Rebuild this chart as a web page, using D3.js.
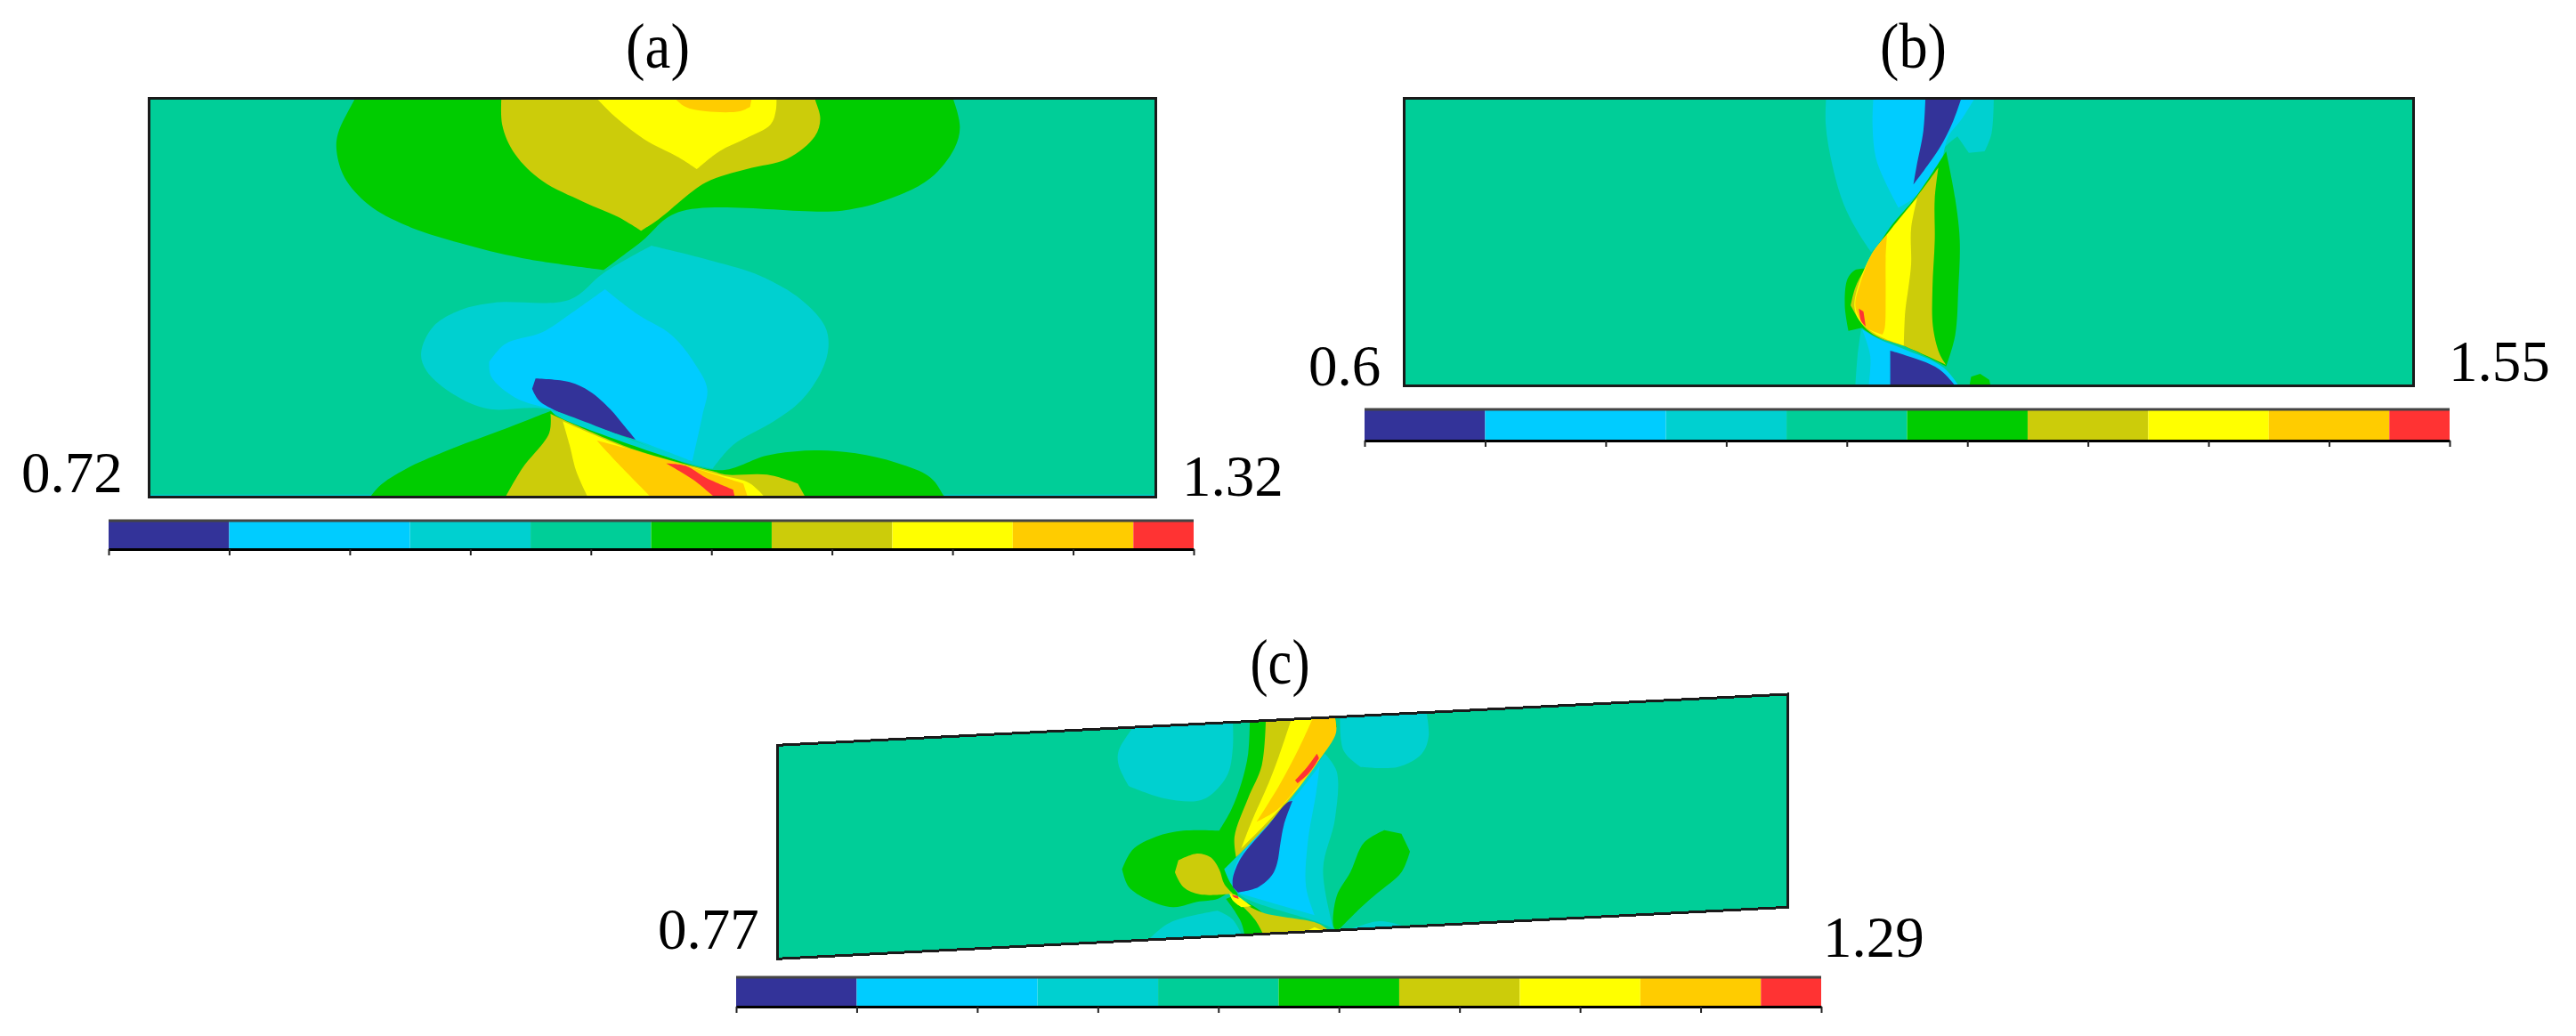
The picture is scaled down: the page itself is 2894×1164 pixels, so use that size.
<!DOCTYPE html>
<html><head><meta charset="utf-8">
<script src="https://cdnjs.cloudflare.com/ajax/libs/d3/7.8.5/d3.min.js"></script>
<style>html,body{margin:0;background:#fff}svg{display:block}text{font-family:"Liberation Serif",serif;fill:#000}</style>
</head><body>
<svg id="c" width="2894" height="1164"></svg>
<script>
// Contour levels, lowest to highest
const levelNames = ["navy","cyan","teal","base","green","olive","yellow","orange","red"];
const levelColors = ["#333399","#00CCFF","#00D0D0","#00CE98","#00CC00","#CCCC0A","#FFFF00","#FFCC00","#FF3333"];
// Colour-bar band edges, in tick units
const bandEdges = [0,1,2.5,3.5,4.5,5.5,6.5,7.5,8.5,9];
const tickUnits = [0,1,2,3,4,5,6,7,8,9];
const panelNames = ["(a)","(b)","(c)"];
const minLabels = ["0.72","0.6","0.77"];
const maxLabels = ["1.32","1.55","1.29"];

// Contour regions in mesh units, painted in order. Boundary points reach past the
// mesh edge where a contour meets it; the mesh clip trims them.
const regionsA = [
 ["teal",[[0,1397],[350,1397],[350,1430],[0,1430]]],
 ["teal",[[1190,1397],[1530,1397],[1530,1430],[1190,1430]]],
 ["green",[[335,20],[325,62],[300,180],[298,240],[310,330],[345,420],[400,490],[480,550],[570,600],[690,640],[745,545],[800,445],[1040,440],[1110,400],[1170,330],[1205,230],[1213,160],[1203,62],[1195,20]]],
 ["olive",[[541,20],[541,150],[560,250],[600,340],[660,410],[710,460],[745,508],[770,470],[840,345],[900,300],[960,265],[1000,190],[1008,130],[1000,62],[995,20]]],
 ["yellow",[[665,20],[680,62],[710,130],[750,200],[800,260],[827,300],[860,240],[900,195],[935,150],[943,100],[943,20]]],
 ["orange",[[785,30],[795,62],[810,90],[840,105],[890,105],[905,90],[910,30]]],
 ["teal",[[760,558],[850,610],[920,660],[980,740],[1015,830],[1020,900],[1010,980],[980,1080],[940,1150],[880,1230],[850,1310],[815,1290],[612,1110],[520,1108],[470,1060],[430,980],[422,920],[440,830],[480,775],[530,750],[640,740],[690,650]]],
 ["cyan",[[692,705],[740,790],[790,860],[825,960],[842,1040],[835,1130],[820,1285],[700,1180],[612,1110],[560,1070],[525,1000],[522,950],[545,890],[600,850],[640,790]]],
 ["navy",[[590,1006],[640,1018],[670,1050],[700,1110],[720,1165],[737,1212],[680,1170],[625,1120],[595,1080],[585,1040]]],
 ["green",[[612,1115],[540,1180],[470,1240],[400,1310],[360,1370],[340,1430],[1195,1430],[1190,1405],[1170,1340],[1120,1290],[1060,1258],[1000,1248],[930,1265],[860,1315],[740,1232]]],
 ["olive",[[612,1125],[610,1190],[570,1310],[540,1430],[992,1430],[975,1360],[930,1330],[870,1330],[850,1318],[735,1245]]],
 ["yellow",[[630,1150],[640,1230],[650,1320],[672,1430],[935,1430],[905,1360],[860,1330],[730,1245]]],
 ["orange",[[680,1215],[710,1290],[770,1430],[905,1430],[895,1360],[865,1338],[840,1320],[730,1245]]],
 ["red",[[782,1292],[810,1300],[840,1340],[880,1380],[885,1430],[870,1430],[820,1345]]],
 ["teal",[[612,1112],[625,1120],[745,1225],[830,1298],[855,1312],[815,1292],[735,1233],[620,1130]]]
];
const regionsB = [
 ["teal",[[1082,30],[1080,150],[1095,290],[1120,420],[1150,510],[1180,580],[1275,400],[1340,230],[1370,190],[1395,245],[1430,240],[1445,180],[1450,30]]],
 ["cyan",[[1186,30],[1183,150],[1190,260],[1210,340],[1240,430],[1275,395],[1330,290],[1350,190],[1380,130],[1420,30]]],
 ["navy",[[1300,30],[1295,170],[1280,290],[1273,352],[1330,230],[1360,140],[1385,30]]],
 ["teal",[[1144,1060],[1150,930],[1158,840],[1200,880],[1205,1060]]],
 ["cyan",[[1172,1060],[1178,930],[1160,840],[1200,875],[1250,905],[1340,970],[1385,1060]]],
 ["navy",[[1222,1060],[1222,912],[1250,925],[1330,975],[1380,1060]]],
 ["green",[[1393,1060],[1400,1000],[1420,990],[1440,1010],[1447,1060]]],
 ["green",[[1345,240],[1365,400],[1375,540],[1372,700],[1365,860],[1345,965],[1250,895],[1190,865],[1160,835],[1130,845],[1122,760],[1128,670],[1145,640],[1165,635],[1220,500],[1280,390]]],
 ["olive",[[1328,295],[1320,400],[1320,540],[1315,700],[1316,830],[1330,920],[1345,960],[1250,895],[1200,870],[1170,840],[1150,800],[1135,760],[1145,700],[1165,640],[1220,510],[1280,395]]],
 ["yellow",[[1282,395],[1268,500],[1268,620],[1262,700],[1255,780],[1252,895],[1200,865],[1170,835],[1150,800],[1143,760],[1150,700],[1180,590],[1220,510]]],
 ["orange",[[1215,520],[1212,600],[1212,720],[1210,835],[1205,858],[1170,835],[1150,790],[1145,750],[1155,690],[1180,590]]],
 ["red",[[1153,770],[1163,780],[1168,830],[1158,812]]]
];
const regionsC = [
 ["teal",[[460,100],[745,90],[745,180],[730,270],[680,340],[640,360],[540,350],[440,310],[410,240],[410,190]]],
 ["teal",[[1060,60],[1310,40],[1320,140],[1300,200],[1230,245],[1120,245],[1070,190]]],
 ["teal",[[470,860],[490,835],[560,770],[700,730],[745,760],[790,860]]],
 ["teal",[[1040,830],[1060,806],[1120,780],[1180,765],[1270,795],[1300,830]]],
 ["green",[[1040,780],[1050,680],[1090,600],[1130,500],[1190,458],[1240,470],[1265,530],[1240,600],[1170,670],[1120,720],[1050,800]]],
 ["green",[[795,80],[790,200],[770,300],[740,390],[705,460],[600,460],[520,480],[450,525],[420,590],[440,650],[500,695],[570,718],[640,700],[700,690],[730,670],[760,680],[760,550],[1050,110],[1045,80]]],
 ["olive",[[842,80],[830,240],[790,350],[750,480],[755,550],[920,360],[1045,110],[1045,80]]],
 ["yellow",[[918,80],[880,210],[850,300],[800,430],[770,520],[880,390],[960,280],[1045,110],[1045,80]]],
 ["orange",[[980,80],[940,180],[880,310],[815,430],[875,390],[930,320],[1000,220],[1048,130],[1045,80]]],
 ["red",[[992,200],[998,215],[985,240],[965,270],[935,300],[928,290],[960,250]]],
 ["teal",[[1015,200],[1050,260],[1045,420],[1010,590],[1040,790],[1000,770],[770,680],[740,640],[720,590],[880,400]]],
 ["cyan",[[1000,240],[990,330],[965,500],[960,650],[985,745],[760,670],[745,640],[760,560],[910,370],[960,300]]],
 ["navy",[[920,360],[895,440],[885,500],[875,570],[860,610],[820,650],[760,668],[745,650],[745,620],[770,550],[850,440],[905,365]]],
 ["olive",[[640,537],[680,550],[705,590],[720,640],[745,672],[650,675],[600,650],[575,600],[585,560]]],
 ["green",[[725,690],[745,680],[830,735],[880,850],[785,850],[770,770]]],
 ["olive",[[740,680],[830,735],[1000,775],[1042,815],[1045,850],[850,850],[810,760]]],
 ["yellow",[[735,672],[750,675],[800,715],[770,718],[745,695]]],
 ["red",[[742,676],[760,680],[762,690],[748,684]]],
 ["yellow",[[945,830],[950,805],[985,785],[1042,812],[1045,850]]]
];
// Corners of each deformed mesh, in mesh units
const outlineA = [[22,62],[1500,62],[1500,1405],[22,1405]];
const outlineB = [[152,62],[2373,62],[2373,1030],[152,1030]];
const outlineC = [[-593,172],[2373,0],[2373,718],[-593,892]];

const svg = d3.select("#c");
const color = d3.scaleOrdinal(levelNames, levelColors);
const panels = [
 {id:"a",regions:regionsA,outline:outlineA,
  x:d3.scaleLinear([22,1500],[167,1298]),y:d3.scaleLinear([62,1405],[110.7,558.3]),
  title:[739,76,72],lo:[24,553],hi:[1328,557],bar:[122,1341,585,617]},
 {id:"b",regions:regionsB,outline:outlineB,
  x:d3.scaleLinear([152,2373],[1577.5,2711]),y:d3.scaleLinear([62,1030],[110.7,433.3]),
  title:[2149.5,76,75],lo:[1470,433],hi:[2751,428],bar:[1533,2752,460,495]},
 {id:"c",regions:regionsC,outline:outlineC,
  x:d3.scaleLinear([-593,2373],[873,2008]),y:d3.scaleLinear([0,960],[780,1100]),
  title:[1438,768,67],lo:[739,1066],hi:[2048,1075],bar:[827,2046,1098,1131]}
];

// Smooth contour through the points, keeping sharp corners where the boundary really turns.
const openCurve = d3.line().curve(d3.curveCatmullRom.alpha(0.5));
const closedCurve = d3.line().curve(d3.curveCatmullRomClosed.alpha(0.5));
function contourPath(p, pts) {
  const q = pts.map(d => [p.x(d[0]), p.y(d[1])]);
  const n = q.length;
  const turn = i => {
    const a = q[(i + n - 1) % n], b = q[i], c = q[(i + 1) % n];
    let t = Math.abs(Math.atan2(c[1]-b[1], c[0]-b[0]) - Math.atan2(b[1]-a[1], b[0]-a[0]));
    return t > Math.PI ? 2*Math.PI - t : t;
  };
  const corners = d3.range(n).filter(i => turn(i) > 0.75);
  if (!corners.length) return closedCurve(q);
  let out = "";
  corners.forEach((c, k) => {
    const end = corners[(k + 1) % corners.length];
    const run = [q[c]];
    let j = c;
    do { j = (j + 1) % n; run.push(q[j]); } while (j !== end);
    const s = openCurve(run);
    out += k === 0 ? s : "L" + s.slice(1);
  });
  return out + "Z";
}

panels.forEach((p,i)=>{
  const g = svg.append("g").attr("class","panel-"+p.id);
  const straight = d3.line().x(d=>p.x(d[0])).y(d=>p.y(d[1])).curve(d3.curveLinearClosed);
  g.append("clipPath").attr("id","clip-"+p.id).append("path").attr("d",straight(p.outline));
  g.append("path").attr("d",straight(p.outline)).attr("fill",color("base"));
  g.append("g").attr("clip-path",`url(#clip-${p.id})`)
    .selectAll("path").data(p.regions).join("path")
    .attr("d",d=>contourPath(p,d[1])).attr("fill",d=>color(d[0]));
  g.append("path").attr("d",straight(p.outline)).attr("fill","none")
    .attr("stroke","#1a1a1a").attr("stroke-width",3).attr("shape-rendering","crispEdges");

  g.append("text").attr("x",p.title[0]).attr("y",p.title[1])
    .attr("text-anchor","middle").attr("font-size",72)
    .attr("textLength",p.title[2]).attr("lengthAdjust","spacingAndGlyphs").text(panelNames[i]);
  g.append("text").attr("x",p.lo[0]).attr("y",p.lo[1]).attr("font-size",65).text(minLabels[i]);
  g.append("text").attr("x",p.hi[0]).attr("y",p.hi[1]).attr("font-size",65).text(maxLabels[i]);

  const [bx0,bx1,by0,by1] = p.bar;
  const bx = d3.scaleLinear([0,9],[bx0,bx1]);
  const bands = d3.pairs(bandEdges);
  const bg = g.append("g").attr("class","bar");
  bg.selectAll("rect").data(bands).join("rect")
    .attr("x",d=>bx(d[0])).attr("width",d=>bx(d[1])-bx(d[0]))
    .attr("y",by0).attr("height",by1-by0)
    .attr("fill",(d,k)=>levelColors[k]);
  bg.append("line").attr("x1",bx0).attr("x2",bx1).attr("y1",by0).attr("y2",by0)
    .attr("stroke","#444").attr("stroke-width",3);
  const ax = bg.append("g").attr("transform",`translate(0,${by1})`)
    .call(d3.axisBottom(bx).tickValues(tickUnits).tickSize(7).tickSizeOuter(0).tickFormat(""));
  ax.select(".domain").attr("stroke","#000").attr("stroke-width",3);
  ax.selectAll(".tick line").attr("stroke","#222").attr("stroke-width",2);
});
</script>
</body></html>
